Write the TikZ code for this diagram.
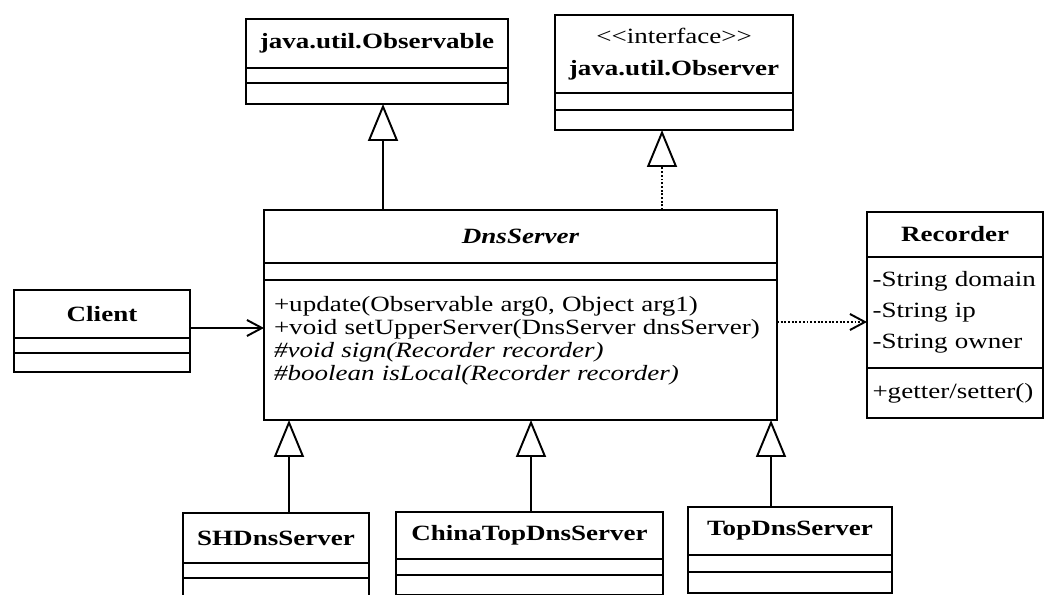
\documentclass[tikz,border=0pt]{standalone}
\usepackage{fontspec}
\setmainfont{Liberation Serif}[FakeStretch=1.24]
\usetikzlibrary{arrows.meta,positioning}
\newcommand\umlsize{\fontsize{12.4}{13}\selectfont}

\begin{document}
\begin{tikzpicture}[
  font=\umlsize,
  cls/.style={draw, line width=1.1pt, outer sep=0pt, inner sep=0pt, anchor=north, font=\umlsize\bfseries},
  part/.style={draw, line width=1.1pt, outer sep=0pt, inner sep=0pt},
  members/.style={part, align=left, inner xsep=2mm},
  inherit/.style={-{Triangle[open, width=6mm, length=7.4mm]}, line width=1.1pt},
  realize/.style={inherit, densely dotted},
  assoc/.style={-{Straight Barb[length=3mm, width=3.2mm]}, line width=1.1pt},
  depend/.style={assoc, densely dotted}
]
\useasboundingbox (0,0) rectangle (20.92,-11.9);
\clip (0,0) rectangle (20.92,-11.9);

\node[cls, minimum width=52.4mm, minimum height=9.8mm] (obs) at (7.54,-0.38) {java.util.Observable};
\node[part, minimum width=52.4mm, minimum height=3mm, below=0pt of obs] (obsattr) {};
\node[part, minimum width=52.4mm, minimum height=4.2mm, below=0pt of obsattr] (obsops) {};

\node[cls, font=\umlsize, align=center, minimum width=47.6mm, minimum height=15.6mm] (iface) at (13.48,-0.30)
  {<\kern0pt<interface>\kern0pt>\\[5pt]\textbf{java.util.Observer}};
\node[part, minimum width=47.6mm, minimum height=3.4mm, below=0pt of iface] (ifaceattr) {};
\node[part, minimum width=47.6mm, minimum height=4mm, below=0pt of ifaceattr] (ifaceops) {};

\node[cls, font=\umlsize\bfseries\itshape, minimum width=102.6mm, minimum height=10.6mm] (dns) at (10.41,-4.20) {DnsServer};
\node[part, minimum width=102.6mm, minimum height=3.4mm, below=0pt of dns] (dnsattr) {};
\node[members, text width=98.6mm, minimum height=28mm, below=0pt of dnsattr] (dnsops)
  {+update(Observable arg0, Object arg1)\\
   +void setUpperServer(DnsServer dnsServer)\\
   \textit{\#void sign(Recorder recorder)}\\
   \textit{\#boolean isLocal(Recorder recorder)}\\ \mbox{}};

\node[cls, minimum width=35.2mm, minimum height=9.6mm] (client) at (2.04,-5.80) {Client};
\node[part, minimum width=35.2mm, minimum height=3mm, below=0pt of client] (clientattr) {};
\node[part, minimum width=35.2mm, minimum height=3.8mm, below=0pt of clientattr] (clientops) {};

\node[cls, minimum width=35.2mm, minimum height=9mm] (rec) at (19.10,-4.24) {Recorder};
\node[members, font=\fontsize{12.4}{17.6}\selectfont, text width=33mm, inner xsep=1.1mm, minimum height=22.2mm, below=0pt of rec] (recattr)
  {-String domain\\-String ip\\-String owner};
\node[members, text width=33mm, inner xsep=1.1mm, minimum height=10mm, below=0pt of recattr] (recops) {+getter/setter()};

\node[cls, minimum width=37.2mm, minimum height=10mm] (sh) at (5.52,-10.26) {SHDnsServer};
\node[part, minimum width=37.2mm, minimum height=3mm, below=0pt of sh] (shattr) {};
\node[part, minimum width=37.2mm, minimum height=4mm, below=0pt of shattr] (shops) {};

\node[cls, minimum width=53.4mm, minimum height=9.4mm] (china) at (10.59,-10.24) {ChinaTopDnsServer};
\node[part, minimum width=53.4mm, minimum height=3.2mm, below=0pt of china] (chinaattr) {};
\node[part, minimum width=53.4mm, minimum height=4mm, below=0pt of chinaattr] (chinaops) {};

\node[cls, minimum width=40.8mm, minimum height=9.6mm] (top) at (15.80,-10.14) {TopDnsServer};
\node[part, minimum width=40.8mm, minimum height=3.4mm, below=0pt of top] (topattr) {};
\node[part, minimum width=40.8mm, minimum height=4.2mm, below=0pt of topattr] (topops) {};

\draw[inherit] ([xshift=1.2mm]obsops.south |- dns.north) -- ([xshift=1.2mm]obsops.south);
\draw[realize] ([xshift=-2.4mm]ifaceops.south |- dns.north) -- ([xshift=-2.4mm]ifaceops.south);
\draw[inherit] ([xshift=2.6mm]sh.north) -- ([xshift=2.6mm]sh.north |- dnsops.south);
\draw[inherit] ([xshift=0.3mm]china.north) -- ([xshift=0.3mm]china.north |- dnsops.south);
\draw[inherit] ([xshift=-3.8mm]top.north) -- ([xshift=-3.8mm]top.north |- dnsops.south);
\draw[assoc] ([yshift=-2.8mm]client.east) -- ([yshift=-2.8mm]client.east -| dnsops.west);
\draw[depend] ([yshift=5.6mm]dnsops.east) -- ([yshift=5.6mm]dnsops.east -| recattr.west);

\end{tikzpicture}
\end{document}
